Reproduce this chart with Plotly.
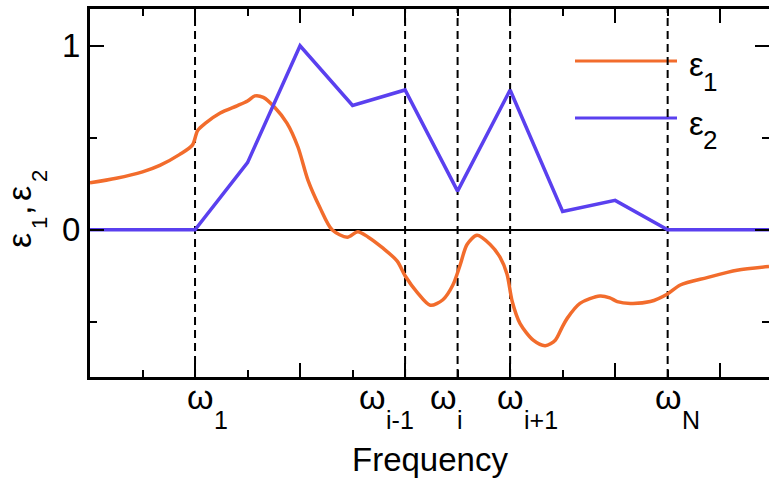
import plotly.graph_objects as go

# ---------------- data (frequency in grid units) ----------------
eps1_freq = [0.00, 0.50, 1.00, 1.33, 1.71, 1.95, 2.05, 2.20, 2.48, 2.81, 3.00, 3.14, 3.30,
             3.52, 3.75, 3.96, 4.15, 4.38, 4.61, 4.90, 5.10, 5.30, 5.58, 5.85, 6.00, 6.23,
             6.48, 6.72, 6.91, 7.05, 7.18, 7.37, 7.62, 7.81, 7.94, 8.04, 8.19, 8.44, 8.67,
             8.86, 8.99, 9.09, 9.33, 9.71, 9.90, 10.04, 10.29, 10.67, 10.99, 11.24, 11.75,
             12.32, 12.93]
eps1_vals = [0.255, 0.28, 0.315, 0.35, 0.41, 0.46, 0.54, 0.58, 0.635, 0.675, 0.70, 0.728, 0.72,
             0.665, 0.58, 0.45, 0.27, 0.12, 0.00, -0.04, -0.01, -0.04, -0.10, -0.17, -0.25, -0.34,
             -0.41, -0.38, -0.30, -0.19, -0.08, -0.03, -0.08, -0.15, -0.24, -0.39, -0.51, -0.60, -0.63,
             -0.60, -0.53, -0.48, -0.40, -0.36, -0.37, -0.39, -0.40, -0.39, -0.35, -0.30, -0.26,
             -0.22, -0.20]

eps2_freq = [0, 2, 3, 4, 5, 6, 7, 8, 9, 10, 11, 12.93]
eps2_vals = [0, 0, 0.365, 1.0, 0.676, 0.76, 0.21, 0.76, 0.10, 0.16, 0, 0]

omega_pos = [2, 6, 7, 8, 11]
omega_subs = ["1", "i-1", "i", "i+1", "N"]

y_tickvals = [0, 1]
y_ticktext = ["0", "1"]
y_minor = [-0.5, 0.5]
x_major = [0, 2, 4, 6, 8, 10, 12]
x_minor = [1, 3, 5, 7, 9, 11]

series_names = ["ε1", "ε2"]
series_subs = ["1", "2"]

# ---------------- style ----------------
ORANGE = "#f26c2c"
BLUE = "#5a40ef"
FONT = "Liberation Sans, Arial, Helvetica, sans-serif"
W, H = 769, 480
L, R, T, B = 90, 0, 9, 103
PW, PH = W - L - R, H - T - B
XR = [0, 12.93]
YR = [-0.8, 1.2]


def pxx(px):
    return (px - L) / PW


def pxy(py):
    return (H - B - py) / PH


fig = go.Figure()
fig.add_trace(go.Scatter(x=eps1_freq, y=eps1_vals, mode="lines", name=series_names[0],
                         line=dict(color=ORANGE, width=3.5, shape="spline", smoothing=0.8),
                         showlegend=False))
fig.add_trace(go.Scatter(x=eps2_freq, y=eps2_vals, mode="lines", name=series_names[1],
                         line=dict(color=BLUE, width=3.5), showlegend=False))

shapes = []
# legend lines
legend_y = [61, 118]
legend_colors = [ORANGE, BLUE]
for yy, cc in zip(legend_y, legend_colors):
    shapes.append(dict(type="line", xref="paper", yref="paper", x0=pxx(575), x1=pxx(677),
                       y0=pxy(yy), y1=pxy(yy), line=dict(color=cc, width=3), layer="below"))
# dashed verticals
for p in omega_pos:
    shapes.append(dict(type="line", xref="x", yref="paper", x0=p, x1=p, y0=0, y1=1,
                       line=dict(color="black", width=2, dash="8px,5px"), layer="below"))

annotations = []
# omega labels
omega_off = [-10, -48, -30, -15, -15]
for p, s, off in zip(omega_pos, omega_subs, omega_off):
    annotations.append(dict(x=p, xref="x", y=pxy(396.5), yref="paper", text="ω",
                            xanchor="left", yanchor="middle", xshift=off, showarrow=False,
                            font=dict(family=FONT, size=34, color="black")))
    annotations.append(dict(x=p, xref="x", y=pxy(420), yref="paper", text=s,
                            xanchor="left", yanchor="middle", xshift=off + 27, showarrow=False,
                            font=dict(family=FONT, size=25, color="black")))
# x title
annotations.append(dict(x=pxx(430), xref="paper", y=pxy(480), yref="paper", text="Frequency",
                        xanchor="center", yanchor="bottom", showarrow=False,
                        font=dict(family=FONT, size=33, color="black")))
# legend texts
legend_eps_y = [64, 123]
legend_sub_y = [82, 140]
for name, sub, ey, sy in zip(series_names, series_subs, legend_eps_y, legend_sub_y):
    annotations.append(dict(x=pxx(687), xref="paper", y=pxy(ey), yref="paper", text=name[0],
                            xanchor="left", yanchor="middle", showarrow=False,
                            font=dict(family=FONT, size=33, color="black")))
    annotations.append(dict(x=pxx(701), xref="paper", y=pxy(sy), yref="paper", text=sub,
                            xanchor="left", yanchor="middle", showarrow=False,
                            font=dict(family=FONT, size=26, color="black")))
# y title pieces (rotated)
ytitle_pieces = [("ε", 34, 19, 241), (series_subs[0], 22, 39, 223), (",", 34, 19, 211),
                 ("ε", 34, 19, 194), (series_subs[1], 22, 39, 176)]
for txt, sz, cx, cy in ytitle_pieces:
    annotations.append(dict(x=pxx(cx), xref="paper", y=pxy(cy), yref="paper", text=txt,
                            xanchor="center", yanchor="middle", textangle=-90, showarrow=False,
                            font=dict(family=FONT, size=sz, color="black")))

tick_common = dict(ticks="inside", ticklen=14, tickwidth=2, tickcolor="black")
minor_common = dict(ticks="inside", ticklen=7, tickwidth=2, tickcolor="black", showgrid=False)

fig.update_layout(
    width=W, height=H,
    margin=dict(l=L, r=R, t=T, b=B, pad=0),
    paper_bgcolor="white", plot_bgcolor="white",
    showlegend=False,
    shapes=shapes, annotations=annotations,
    xaxis=dict(range=XR, showgrid=False, zeroline=False,
               showline=True, linewidth=3, linecolor="black",
               tickvals=x_major, showticklabels=False,
               minor=dict(tickvals=x_minor, **minor_common), **tick_common),
    xaxis2=dict(range=XR, overlaying="x", side="top", showgrid=False, zeroline=False,
                showline=True, linewidth=3, linecolor="black",
                tickvals=x_major, showticklabels=False,
                minor=dict(tickvals=x_minor, **minor_common), **tick_common),
    yaxis=dict(range=YR, showgrid=False, zeroline=True, zerolinecolor="black",
               zerolinewidth=2, showline=True, linewidth=3, linecolor="black",
               tickvals=y_tickvals, ticktext=y_ticktext,
               tickfont=dict(family=FONT, size=33, color="black"),
               minor=dict(tickvals=y_minor, **minor_common), **tick_common),
    yaxis2=dict(range=YR, overlaying="y", side="right", showgrid=False, zeroline=False,
                showline=False, tickvals=y_tickvals, showticklabels=False,
                minor=dict(tickvals=y_minor, **minor_common), **tick_common),
)
# invisible helper trace so the top/right tick axes are drawn
fig.add_trace(go.Scatter(x=[XR[0]], y=[0], xaxis="x2", yaxis="y2", mode="lines",
                         hoverinfo="skip", showlegend=False, line=dict(width=0)))

fig.write_html("out.html", config={"displayModeBar": False},
               post_script="document.body.style.margin='0';document.body.style.overflow='hidden';")
